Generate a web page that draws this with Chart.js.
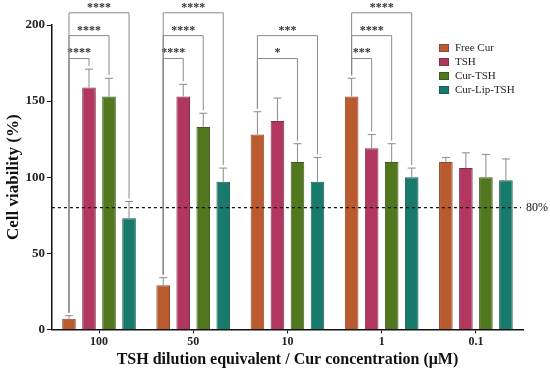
<!DOCTYPE html>
<html>
<head>
<meta charset="utf-8">
<script src="https://cdn.jsdelivr.net/npm/chart.js@4.4.0/dist/chart.umd.min.js"></script>
<style>
  html, body { margin: 0; padding: 0; background: #fff; }
  #wrap { width: 550px; height: 375px; position: relative; }
</style>
</head>
<body>
<div id="wrap"><canvas id="viabilityChart"></canvas></div>
<script>
// data
const concentrations = ["100", "50", "10", "1", "0.1"];
const seriesNames = ["Free Cur", "TSH", "Cur-TSH", "Cur-Lip-TSH"];
const freeCur = [7, 29, 128, 153, 110];
const tsh = [159, 153, 137, 119, 106];
const curTsh = [153, 133, 110, 110, 100];
const curLipTsh = [73, 97, 97, 100, 98];
// top of the error bars
const freeCurErr = [9, 34, 143, 165, 113];
const tshErr = [171, 161, 152, 128, 116];
const curTshErr = [165, 142, 122, 122, 115];
const curLipTshErr = [84, 106, 113, 106, 112];
const yTicks = [0, 50, 100, 150, 200];
const thresholdValue = 80;
// significance: [group, target series, level, stars]
const sigGroups = [0, 0, 0, 1, 1, 1, 2, 2, 3, 3, 3];
const sigTargets = [1, 2, 3, 1, 2, 3, 2, 3, 1, 2, 3];
const sigLevels = [178, 193, 208, 178, 193, 208, 178, 193, 178, 193, 208];
const sigStars = ["****", "****", "****", "****", "****", "****", "*", "***", "***", "****", "****"];

const colors = ["#b95a2f", "#b2375f", "#52781f", "#177a6a"];
const borders = ["#8a4a2c", "#7e3050", "#3d5a1c", "#1b5a50"];
const allValues = [freeCur, tsh, curTsh, curLipTsh];
const allErr = [freeCurErr, tshErr, curTshErr, curLipTshErr];

const serif = "'Liberation Serif', 'DejaVu Serif', serif";

const extras = {
    id: "extras",
    afterDatasetsDraw(chart) {
        const ctx = chart.ctx;
        const y = chart.scales.y;
        const area = chart.chartArea;

        // error bars
        ctx.save();
        ctx.strokeStyle = "#8a8a8a";
        ctx.lineWidth = 1;
        allErr.forEach((errs, d) => {
            const meta = chart.getDatasetMeta(d);
            errs.forEach((top, i) => {
                const bar = meta.data[i];
                const yt = y.getPixelForValue(top);
                ctx.beginPath();
                ctx.moveTo(bar.x, bar.y);
                ctx.lineTo(bar.x, yt);
                ctx.moveTo(bar.x - 4, yt);
                ctx.lineTo(bar.x + 4, yt);
                ctx.stroke();
            });
        });

        // dashed 80% line
        const yl = y.getPixelForValue(thresholdValue);
        ctx.strokeStyle = "#111";
        ctx.lineWidth = 1.2;
        ctx.setLineDash([3, 3]);
        ctx.beginPath();
        ctx.moveTo(area.left, yl);
        ctx.lineTo(area.right - 2, yl);
        ctx.stroke();
        ctx.setLineDash([]);
        ctx.fillStyle = "#111";
        ctx.font = "12px " + serif;
        ctx.textAlign = "left";
        ctx.textBaseline = "middle";
        ctx.fillText("80%", area.right + 3, yl);

        // significance brackets
        ctx.strokeStyle = "#8a8a8a";
        ctx.lineWidth = 1;
        sigGroups.forEach((g, k) => {
            const left = chart.getDatasetMeta(0).data[g];
            const right = chart.getDatasetMeta(sigTargets[k]).data[g];
            const yb = y.getPixelForValue(sigLevels[k]);
            const yLeft = y.getPixelForValue(freeCurErr[g]) - 3;
            const yRight = y.getPixelForValue(allErr[sigTargets[k]][g]) - 3;
            ctx.beginPath();
            ctx.moveTo(left.x, yLeft);
            ctx.lineTo(left.x, yb);
            ctx.lineTo(right.x, yb);
            ctx.lineTo(right.x, yRight);
            ctx.stroke();
            ctx.fillStyle = "#333";
            ctx.font = "bold 12px " + serif;
            ctx.textAlign = "center";
            ctx.textBaseline = "alphabetic";
            ctx.fillText(sigStars[k], (left.x + right.x) / 2, yb - 2);
        });

        // legend
        ctx.font = "11px " + serif;
        ctx.textAlign = "left";
        ctx.textBaseline = "middle";
        seriesNames.forEach((name, d) => {
            const ly = 48 + d * 14;
            ctx.fillStyle = colors[d];
            ctx.fillRect(439, ly - 4, 10, 8);
            ctx.strokeStyle = borders[d];
            ctx.strokeRect(439.5, ly - 3.5, 9, 7);
            ctx.fillStyle = "#222";
            ctx.fillText(name, 455, ly);
        });
        ctx.restore();
    }
};

new Chart(document.getElementById("viabilityChart"), {
    type: "bar",
    data: {
        labels: concentrations,
        datasets: seriesNames.map((name, d) => ({
            label: name,
            data: allValues[d],
            backgroundColor: colors[d],
            borderColor: borders[d],
            borderWidth: 1,
            categoryPercentage: 0.85,
            barPercentage: 0.68
        }))
    },
    options: {
        responsive: true,
        maintainAspectRatio: false,
        animation: false,
        layout: { padding: { top: 25, right: 27, left: 3, bottom: 6 } },
        plugins: {
            legend: { display: false },
            tooltip: { enabled: false }
        },
        scales: {
            x: {
                grid: { display: true, drawOnChartArea: false, offset: false, color: "#111", tickLength: 4 },
                border: { color: "#111", width: 1.5 },
                ticks: { color: "#222", font: { family: serif, size: 12, weight: "bold" }, padding: 1 },
                title: {
                    display: true,
                    text: "TSH dilution equivalent / Cur concentration (μM)",
                    color: "#111",
                    font: { family: serif, size: 16, weight: "bold" },
                    padding: { top: 0, bottom: 0 }
                }
            },
            y: {
                min: 0,
                max: 200,
                afterBuildTicks(axis) { axis.ticks = yTicks.map(v => ({ value: v })); },
                grid: { display: true, drawOnChartArea: false, color: "#111", tickLength: 5 },
                border: { color: "#111", width: 1.5 },
                ticks: { color: "#222", font: { family: serif, size: 13, weight: "bold" }, padding: 2 },
                title: {
                    display: true,
                    text: "Cell viability (%)",
                    color: "#111",
                    font: { family: serif, size: 17, weight: "bold" },
                    padding: { top: 0, bottom: 0 }
                }
            }
        }
    },
    plugins: [extras]
});
</script>
</body>
</html>
